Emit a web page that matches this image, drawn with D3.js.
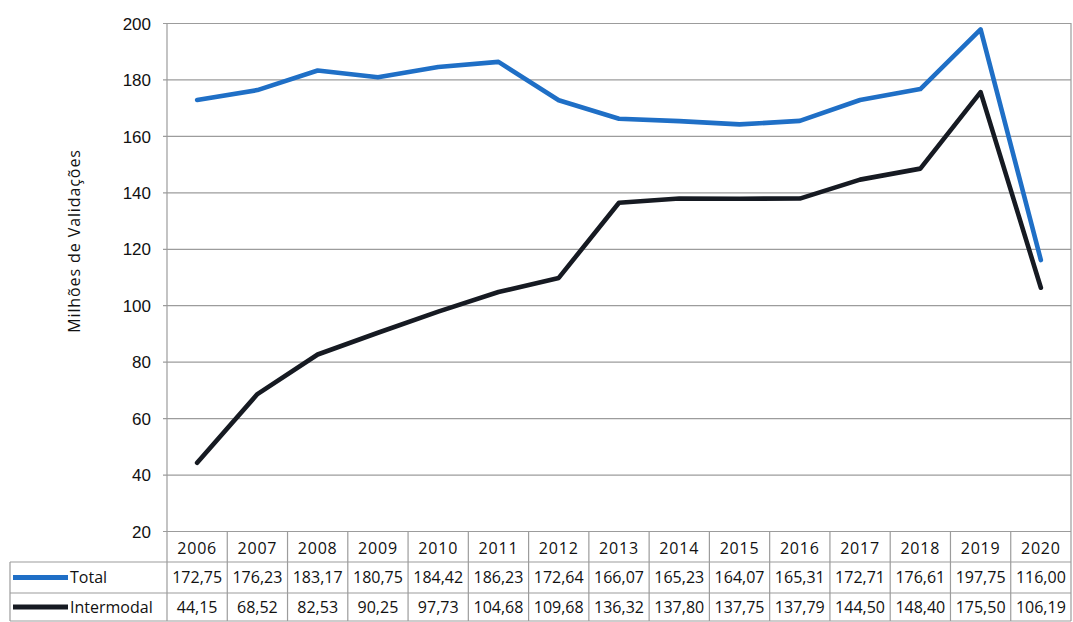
<!DOCTYPE html>
<html>
<head>
<meta charset="utf-8">
<script src="https://cdn.jsdelivr.net/npm/d3@7"></script>
<style>
  html, body { margin: 0; padding: 0; background: #ffffff; }
  svg { display: block; font-family: "Open Sans", "DejaVu Sans", sans-serif; }
</style>
</head>
<body>
<svg id="chart" width="1073" height="622"></svg>
<script>
// Annual validations (millions)
const years = ["2006","2007","2008","2009","2010","2011","2012","2013","2014","2015","2016","2017","2018","2019","2020"];
const totalValues = [172.75,176.23,183.17,180.75,184.42,186.23,172.64,166.07,165.23,164.07,165.31,172.71,176.61,197.75,116.00];
const intermodalValues = [44.15,68.52,82.53,90.25,97.73,104.68,109.68,136.32,137.80,137.75,137.79,144.50,148.40,175.50,106.19];
const yTicks = [20,40,60,80,100,120,140,160,180,200];
const seriesNames = ["Total","Intermodal"];
const seriesColors = ["#1f6fc6","#161a22"];

const svg = d3.select("#chart");
const plot = { left: 167, right: 1071, top: 23, bottom: 531 };
const table = { left: 10, headerBottom: 562, row1Bottom: 593, bottom: 621 };

const x = d3.scaleBand().domain(years).range([plot.left, plot.right]);
const y = d3.scaleLinear().domain([20, 200]).range([plot.bottom, plot.top]);
const gridColor = "#9c9c9c";
const textColor = "#111111";

// horizontal gridlines with short ticks on the left
const yAxis = d3.axisLeft(y).tickValues(yTicks).tickSize(plot.right - plot.left + 4).tickFormat(d => d);
const gy = svg.append("g")
  .attr("transform", `translate(${plot.right},0)`)
  .call(yAxis);
gy.select(".domain").remove();
gy.selectAll(".tick line").attr("stroke", gridColor).attr("stroke-width", 1.2);
gy.selectAll(".tick text")
  .attr("x", -(plot.right - 151))
  .attr("dy", "0.36em")
  .attr("fill", textColor)
  .attr("font-size", 17);

// plot frame sides
svg.append("line").attr("x1", plot.left).attr("x2", plot.left).attr("y1", plot.top).attr("y2", table.bottom)
  .attr("stroke", gridColor).attr("stroke-width", 1.2);
svg.append("line").attr("x1", plot.right).attr("x2", plot.right).attr("y1", plot.top).attr("y2", table.bottom)
  .attr("stroke", gridColor).attr("stroke-width", 1.2);

// axis title
svg.append("text")
  .attr("transform", `translate(80,241) rotate(-90)`)
  .attr("text-anchor", "middle")
  .attr("font-size", 16)
  .attr("letter-spacing", 0.9)
  .attr("fill", textColor)
  .text("Milhões de Validações");

// series lines
const line = d3.line()
  .x((d, i) => x(years[i]) + x.bandwidth() / 2)
  .y(d => y(d));
[totalValues, intermodalValues].forEach((vals, s) => {
  svg.append("path")
    .datum(vals)
    .attr("d", line)
    .attr("fill", "none")
    .attr("stroke", seriesColors[s])
    .attr("stroke-width", 4.6)
    .attr("stroke-linejoin", "round")
    .attr("stroke-linecap", "round");
});

// data table
const tbl = svg.append("g");
// column separators
years.forEach((yr, i) => {
  if (i === 0) return;
  tbl.append("line")
    .attr("x1", x(yr)).attr("x2", x(yr))
    .attr("y1", plot.bottom).attr("y2", table.bottom)
    .attr("stroke", gridColor).attr("stroke-width", 1.2);
});
// row separators
[table.headerBottom, table.row1Bottom, table.bottom].forEach(yy => {
  tbl.append("line")
    .attr("x1", table.left).attr("x2", plot.right)
    .attr("y1", yy).attr("y2", yy)
    .attr("stroke", gridColor).attr("stroke-width", 1.2);
});
tbl.append("line")
  .attr("x1", table.left).attr("x2", table.left)
  .attr("y1", table.headerBottom).attr("y2", table.bottom)
  .attr("stroke", gridColor).attr("stroke-width", 1.2);

// year header
tbl.selectAll("text.year")
  .data(years)
  .join("text")
  .attr("class", "year")
  .attr("x", d => x(d) + x.bandwidth() / 2)
  .attr("y", 548)
  .attr("dy", "0.36em")
  .attr("text-anchor", "middle")
  .attr("font-size", 16)
  .attr("letter-spacing", 0.8)
  .attr("fill", textColor)
  .text(d => d);

const fmt = v => d3.format(".2f")(v).replace(".", ",");
const rowCenters = [(table.headerBottom + table.row1Bottom) / 2, (table.row1Bottom + table.bottom) / 2];
[totalValues, intermodalValues].forEach((vals, s) => {
  const cy = rowCenters[s];
  tbl.selectAll(`text.val${s}`)
    .data(vals)
    .join("text")
    .attr("class", `val${s}`)
    .attr("x", (d, i) => x(years[i]) + x.bandwidth() / 2)
    .attr("y", cy)
    .attr("dy", "0.36em")
    .attr("text-anchor", "middle")
    .attr("font-size", 16)
    .attr("letter-spacing", 0)
    .attr("fill", textColor)
    .text(d => fmt(d));
  // legend key
  tbl.append("line")
    .attr("x1", 13).attr("x2", 68)
    .attr("y1", cy).attr("y2", cy)
    .attr("stroke", seriesColors[s])
    .attr("stroke-width", 4.8);
  tbl.append("text")
    .attr("x", 70)
    .attr("y", cy)
    .attr("dy", "0.36em")
    .attr("font-size", 16)
    .attr("fill", textColor)
    .text(seriesNames[s]);
});
</script>
</body>
</html>
